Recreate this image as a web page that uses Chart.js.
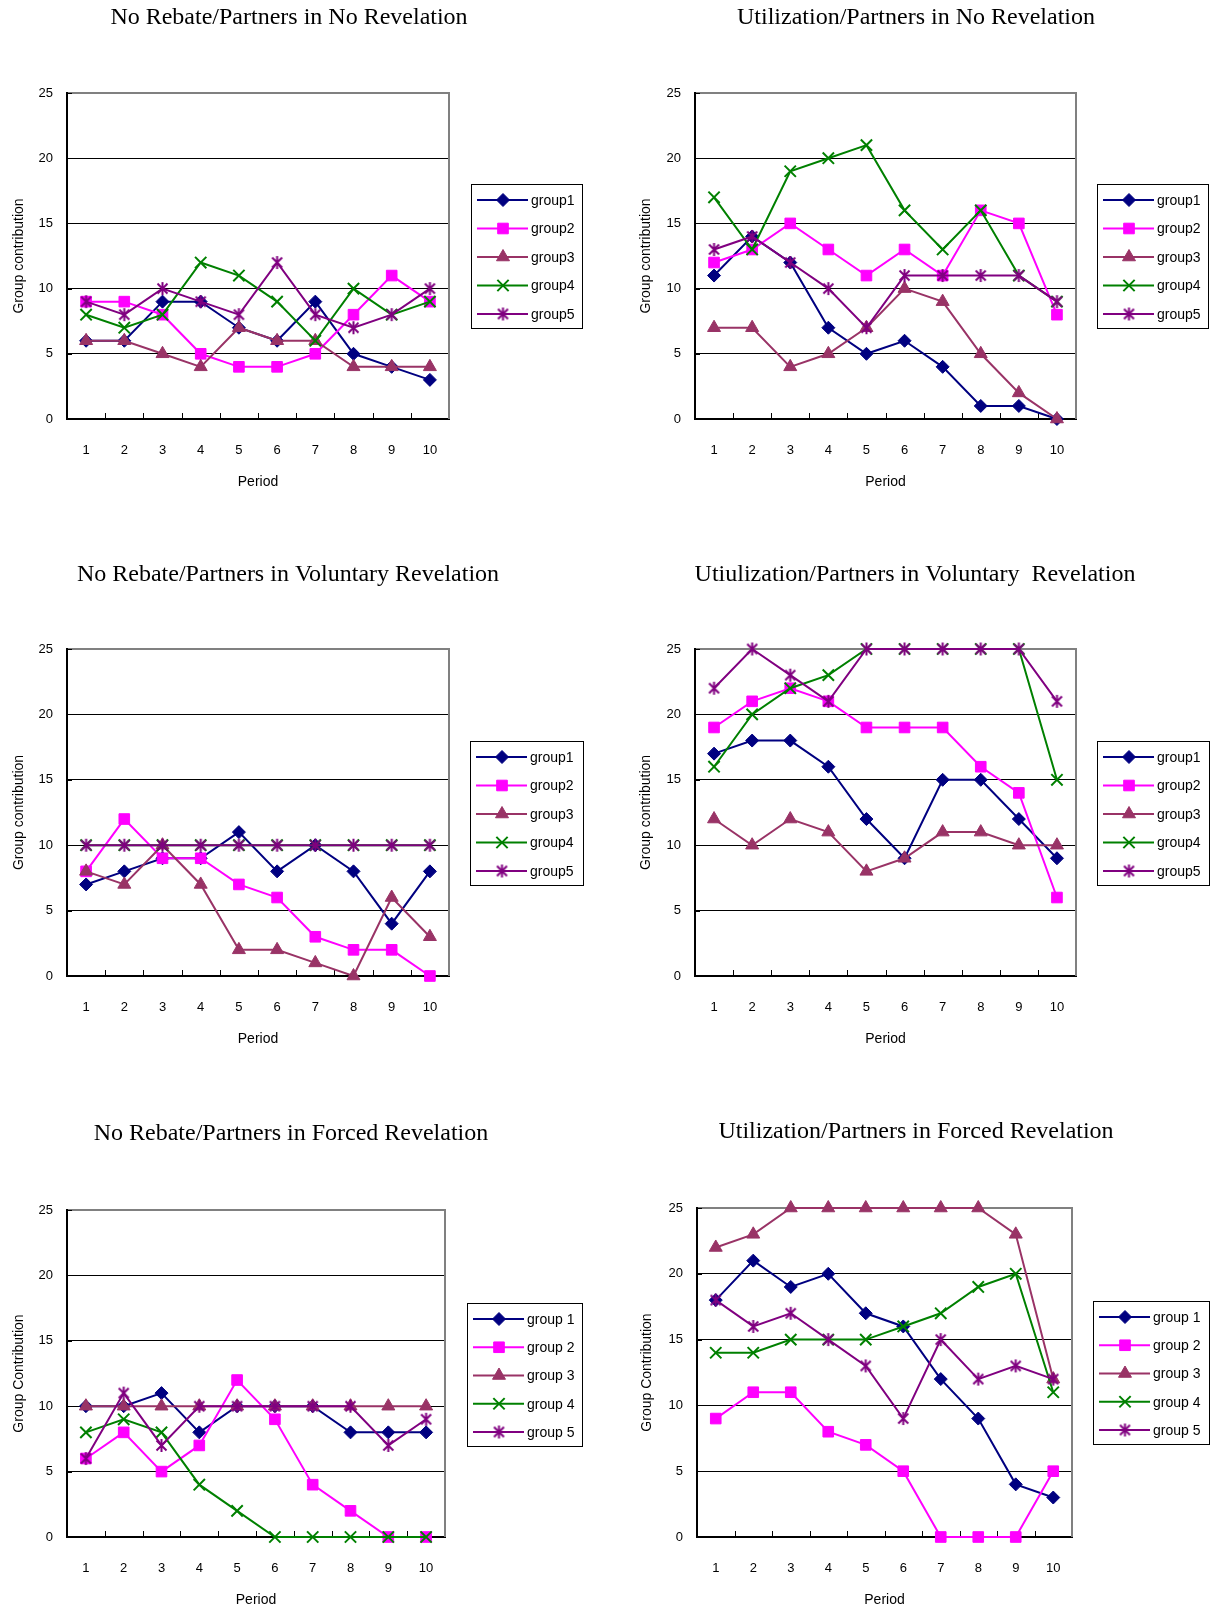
<!DOCTYPE html>
<html>
<head>
<meta charset="utf-8">
<script src="https://cdn.jsdelivr.net/npm/chart.js@4.4.0/dist/chart.umd.min.js"></script>
<style>
  body { margin: 0; background: #fff; }
  #page { position: relative; width: 1216px; height: 1609px; overflow: hidden; }
  #page canvas { position: absolute; }
</style>
</head>
<body>
<div id="page">
  <canvas id="c1"></canvas>
  <canvas id="c2"></canvas>
  <canvas id="c3"></canvas>
  <canvas id="c4"></canvas>
  <canvas id="c5"></canvas>
  <canvas id="c6"></canvas>
</div>
<script>
// ---- data ----
const periods = ['1', '2', '3', '4', '5', '6', '7', '8', '9', '10'];
const groupNames = ['group1', 'group2', 'group3', 'group4', 'group5'];
const groupNamesSpaced = ['group 1', 'group 2', 'group 3', 'group 4', 'group 5'];
const yTicks = [0, 5, 10, 15, 20, 25];

// rows: group1..group5
const noRebateNone = [
  [6, 6, 9, 9, 7, 6, 9, 5, 4, 3],
  [9, 9, 8, 5, 4, 4, 5, 8, 11, 9],
  [6, 6, 5, 4, 7, 6, 6, 4, 4, 4],
  [8, 7, 8, 12, 11, 9, 6, 10, 8, 9],
  [9, 8, 10, 9, 8, 12, 8, 7, 8, 10]
];
const utilNone = [
  [11, 14, 12, 7, 5, 6, 4, 1, 1, 0],
  [12, 13, 15, 13, 11, 13, 11, 16, 15, 8],
  [7, 7, 4, 5, 7, 10, 9, 5, 2, 0],
  [17, 13, 19, 20, 21, 16, 13, 16, 11, 9],
  [13, 14, 12, 10, 7, 11, 11, 11, 11, 9]
];
const noRebateVoluntary = [
  [7, 8, 9, 9, 11, 8, 10, 8, 4, 8],
  [8, 12, 9, 9, 7, 6, 3, 2, 2, 0],
  [8, 7, 10, 7, 2, 2, 1, 0, 6, 3],
  [10, 10, 10, 10, 10, 10, 10, 10, 10, 10],
  [10, 10, 10, 10, 10, 10, 10, 10, 10, 10]
];
const utilVoluntary = [
  [17, 18, 18, 16, 12, 9, 15, 15, 12, 9],
  [19, 21, 22, 21, 19, 19, 19, 16, 14, 6],
  [12, 10, 12, 11, 8, 9, 11, 11, 10, 10],
  [16, 20, 22, 23, 25, 25, 25, 25, 25, 15],
  [22, 25, 23, 21, 25, 25, 25, 25, 25, 21]
];
const noRebateForced = [
  [10, 10, 11, 8, 10, 10, 10, 8, 8, 8],
  [6, 8, 5, 7, 12, 9, 4, 2, 0, 0],
  [10, 10, 10, 10, 10, 10, 10, 10, 10, 10],
  [8, 9, 8, 4, 2, 0, 0, 0, 0, 0],
  [6, 11, 7, 10, 10, 10, 10, 10, 7, 9]
];
const utilForced = [
  [18, 21, 19, 20, 17, 16, 12, 9, 4, 3],
  [9, 11, 11, 8, 7, 5, 0, 0, 0, 5],
  [22, 23, 25, 25, 25, 25, 25, 25, 23, 12],
  [14, 14, 15, 15, 15, 16, 17, 19, 20, 11],
  [18, 16, 17, 15, 13, 9, 15, 12, 13, 12]
];

// ---- series look ----
const seriesColors = ['#000080', '#ff00ff', '#993366', '#008000', '#800080'];
const markerRadius = [6.5, 7.5, 7.5, 8, 6.5];

// Excel-style asterisk (X plus a vertical stroke) as an image marker
function makeAsterisk(color) {
  const c = document.createElement('canvas');
  c.width = 15; c.height = 15;
  const g = c.getContext('2d');
  g.strokeStyle = color;
  g.lineWidth = 2;
  g.beginPath();
  g.moveTo(7.5, 1); g.lineTo(7.5, 14);
  g.moveTo(2.5, 2.5); g.lineTo(12.5, 12.5);
  g.moveTo(12.5, 2.5); g.lineTo(2.5, 12.5);
  g.stroke();
  return c;
}
const seriesMarkers = ['rectRot', 'rect', 'triangle', 'crossRot', makeAsterisk(seriesColors[4])];

const SANS = '"Liberation Sans", Arial, sans-serif';
const SERIF = '"Liberation Serif", "Times New Roman", serif';
const Y_AXIS_W = 60;
const X_AXIS_H = 72;

// layout in page pixels: canvas box, plot area [left, right, top, bottom]
const panels = [
  { id: 'c1', box: [0, 0, 608, 530], area: [67, 449, 93, 419],
    title: 'No Rebate/Partners in No Revelation', titleAt: [289, 18],
    yTitle: 'Group contribution', yTitleX: 19, periodOff: 64,
    legend: [471, 184, 582, 328], names: groupNames, values: noRebateNone },
  { id: 'c2', box: [608, 0, 608, 530], area: [695, 1076, 93, 419],
    title: 'Utilization/Partners in No Revelation', titleAt: [916, 18],
    yTitle: 'Group contribution', yTitleX: 646, periodOff: 64,
    legend: [1097, 184, 1208, 328], names: groupNames, values: utilNone },
  { id: 'c3', box: [0, 530, 608, 550], area: [67, 449, 649, 976],
    title: 'No Rebate/Partners in Voluntary Revelation', titleAt: [288, 575],
    yTitle: 'Group contribution', yTitleX: 19, periodOff: 64,
    legend: [470, 741, 583, 885], names: groupNames, values: noRebateVoluntary },
  { id: 'c4', box: [608, 530, 608, 550], area: [695, 1076, 649, 976],
    title: 'Utiulization/Partners in Voluntary  Revelation', titleAt: [915, 575],
    yTitle: 'Group contribution', yTitleX: 646, periodOff: 64,
    legend: [1097, 741, 1209, 885], names: groupNames, values: utilVoluntary },
  { id: 'c5', box: [0, 1080, 608, 529], area: [67, 445, 1210, 1537],
    title: 'No Rebate/Partners in Forced Revelation', titleAt: [291, 1134],
    yTitle: 'Group Contribution', yTitleX: 19, periodOff: 64,
    legend: [467, 1303, 582, 1446], names: groupNamesSpaced, values: noRebateForced },
  { id: 'c6', box: [608, 1080, 608, 529], area: [697, 1072, 1208, 1537],
    title: 'Utilization/Partners in Forced Revelation', titleAt: [916, 1132],
    yTitle: 'Group Contribution', yTitleX: 647, periodOff: 64,
    legend: [1093, 1301, 1209, 1444], names: groupNamesSpaced, values: utilForced }
];

function drawMarker(ctx, i, x, y) {
  ctx.fillStyle = seriesColors[i];
  ctx.strokeStyle = seriesColors[i];
  ctx.lineWidth = (i >= 3) ? 2 : 1;
  Chart.helpers.drawPoint(ctx, {
    pointStyle: seriesMarkers[i], radius: markerRadius[i], rotation: 0, borderWidth: ctx.lineWidth
  }, x, y);
}

// gray frame on the right, small inward tick marks, title and boxed legend
const panelDecor = {
  id: 'panelDecor',
  beforeDatasetsDraw(chart) {
    const { ctx, chartArea: a, scales } = chart;
    ctx.save();
    ctx.strokeStyle = '#808080';
    ctx.lineWidth = 2;
    ctx.beginPath();
    ctx.moveTo(a.right, a.top - 1);
    ctx.lineTo(a.right, a.bottom);
    ctx.stroke();
    ctx.strokeStyle = '#000';
    ctx.lineWidth = 1;
    const xs = scales.x;
    ctx.beginPath();
    for (let i = 1; i < xs.ticks.length; i++) {
      const px = Math.round((xs.getPixelForTick(i - 1) + xs.getPixelForTick(i)) / 2) + 0.5;
      ctx.moveTo(px, a.bottom);
      ctx.lineTo(px, a.bottom - 6);
    }
    const ys = scales.y;
    ys.ticks.forEach(t => {
      const py = Math.round(ys.getPixelForValue(t.value)) + 0.5;
      ctx.moveTo(a.left, py);
      ctx.lineTo(a.left + 5, py);
    });
    ctx.stroke();
    ctx.restore();
  },
  afterDraw(chart, args, opts) {
    const { ctx } = chart;
    const p = opts.panel;
    const ox = p.box[0], oy = p.box[1];
    ctx.save();
    ctx.fillStyle = '#000';
    ctx.font = '24px ' + SERIF;
    ctx.textAlign = 'center';
    ctx.textBaseline = 'middle';
    ctx.fillText(p.title, p.titleAt[0] - ox, p.titleAt[1] - oy);

    const [l, t, r, b] = p.legend;
    const L = l - ox, T = t - oy;
    ctx.strokeStyle = '#000';
    ctx.lineWidth = 1;
    ctx.strokeRect(Math.round(L) + 0.5, Math.round(T) + 0.5, r - l, b - t);
    const step = (b - t - 30) / 4;
    ctx.font = '14px ' + SANS;
    ctx.textAlign = 'left';
    p.names.forEach((name, i) => {
      const y = T + 16 + i * step;
      ctx.strokeStyle = seriesColors[i];
      ctx.lineWidth = 2;
      ctx.beginPath();
      ctx.moveTo(L + 6, y);
      ctx.lineTo(L + 57, y);
      ctx.stroke();
      drawMarker(ctx, i, L + 32, y);
      ctx.fillStyle = '#000';
      ctx.fillText(name, L + 60, y + 1);
    });
    ctx.restore();
  }
};

panels.forEach(p => {
  const [x0, y0, w, h] = p.box;
  const [aL, aR, aT, aB] = p.area;
  const cv = document.getElementById(p.id);
  cv.width = w;
  cv.height = h;
  cv.style.left = x0 + 'px';
  cv.style.top = y0 + 'px';

  const datasets = p.values.map((vals, i) => ({
    label: p.names[i],
    data: vals,
    borderColor: seriesColors[i],
    backgroundColor: seriesColors[i],
    borderWidth: 2,
    pointStyle: seriesMarkers[i],
    pointRadius: markerRadius[i],
    pointHoverRadius: markerRadius[i],
    pointBorderWidth: i >= 3 ? 2 : 1,
    tension: 0,
    clip: false,
    order: 4 - i
  }));

  new Chart(cv, {
    type: 'line',
    data: { labels: periods, datasets: datasets },
    options: {
      responsive: false,
      animation: false,
      events: [],
      layout: {
        padding: {
          left: aL - x0 - Y_AXIS_W,
          right: x0 + w - aR,
          top: aT - y0,
          bottom: y0 + h - aB - X_AXIS_H
        }
      },
      plugins: {
        legend: { display: false },
        title: { display: false },
        tooltip: { enabled: false },
        panelDecor: { panel: p }
      },
      scales: {
        x: {
          offset: true,
          grid: { display: false },
          border: { color: '#000', width: 2 },
          ticks: { color: '#000', font: { family: SANS, size: 13 }, padding: 16, maxRotation: 0 },
          title: {
            display: true, text: 'Period', color: '#000',
            font: { family: SANS, size: 14 },
            padding: { top: 0, bottom: Math.max(0, X_AXIS_H - 8.4 - p.periodOff) }
          },
          afterFit: s => { s.height = X_AXIS_H; }
        },
        y: {
          min: yTicks[0],
          max: yTicks[yTicks.length - 1],
          grid: {
            drawTicks: false,
            color: c => c.tick.value === yTicks[yTicks.length - 1] ? '#808080' : '#000',
            lineWidth: c => c.tick.value === yTicks[yTicks.length - 1] ? 2 : 1
          },
          border: { color: '#000', width: 2 },
          afterBuildTicks: s => { s.ticks = yTicks.map(v => ({ value: v })); },
          ticks: { color: '#000', font: { family: SANS, size: 13 }, padding: 14 },
          title: {
            display: true, text: p.yTitle, color: '#000',
            font: { family: SANS, size: 14 },
            padding: { top: p.yTitleX - (aL - Y_AXIS_W) - 8.4, bottom: 0 }
          },
          afterFit: s => { s.width = Y_AXIS_W; }
        }
      }
    },
    plugins: [panelDecor]
  });
});
</script>
</body>
</html>
